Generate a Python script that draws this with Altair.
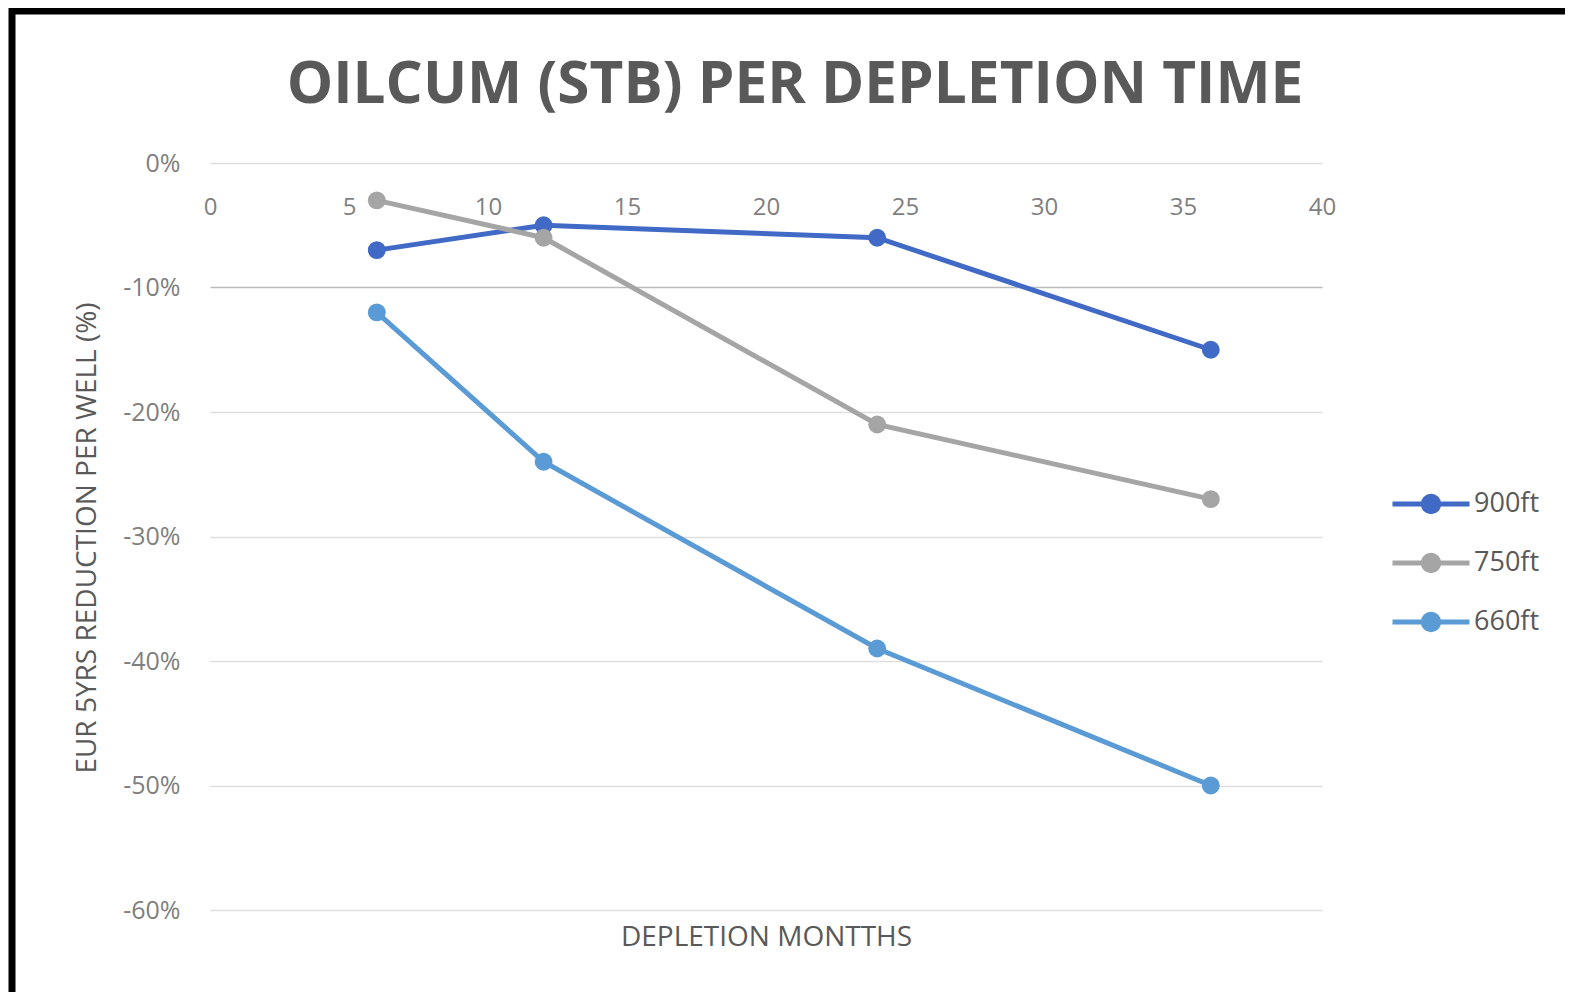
import altair as alt
import pandas as pd

months = [6, 12, 24, 36]
s900 = [-7, -5, -6, -15]
s750 = [-3, -6, -21, -27]
s660 = [-12, -24, -39, -50]
series_names = ["900ft", "750ft", "660ft"]
series_colors = ["#4169C6", "#A5A5A5", "#5B9BD5"]
x_ticks = [0, 5, 10, 15, 20, 25, 30, 35, 40]
y_ticks = [0, -10, -20, -30, -40, -50, -60]
title_text = "OILCUM (STB) PER DEPLETION TIME"

rows = []
for name, vals in zip(series_names, [s900, s750, s660]):
    for m, v in zip(months, vals):
        rows.append({"month": m, "value": v, "series": name})
df = pd.DataFrame(rows)

FONT = "Open Sans"
W, H = 1112, 747

legend_path = "M-1,0L1,0M0.2,0A0.2,0.2,0,1,1,-0.2,0A0.2,0.2,0,1,1,0.2,0Z"

lines = alt.Chart(df).mark_line(
    strokeWidth=5,
    point=alt.OverlayMarkDef(filled=True, size=320, opacity=1),
).encode(
    x=alt.X("month:Q",
            scale=alt.Scale(domain=[0, 40], nice=False),
            axis=alt.Axis(orient="top", values=x_ticks, offset=-56, domain=False,
                          ticks=False, tickSize=0, labelPadding=0, grid=False,
                          labelFlush=False, labelBound=False,
                          labelFont=FONT, labelFontSize=24, labelColor="#7f7f7f",
                          title="DEPLETION MONTTHS", titleFont=FONT, titleFontSize=28,
                          titleFontWeight="normal", titleColor="#595959",
                          titleX=W / 2, titleY=718, titleBaseline="middle",
                          titleAlign="center")),
    y=alt.Y("value:Q",
            scale=alt.Scale(domain=[-60, 0], nice=False),
            axis=alt.Axis(values=y_ticks, domain=False, ticks=False, tickSize=0,
                          labelPadding=30, labelExpr="datum.value + '%'",
                          labelFont=FONT, labelFontSize=25, labelColor="#7f7f7f",
                          gridColor={"condition": {"test": "datum.value == -10", "value": "#bcbcbc"},
                                     "value": "#dedede"},
                          gridWidth=1.6,
                          title="EUR 5YRS REDUCTION PER WELL (%)", titleFont=FONT,
                          titleFontSize=28, titleFontWeight="normal", titleColor="#595959",
                          titleX=-123, titleY=H / 2 + 1, titleAngle=-90,
                          titleBaseline="middle", titleAlign="center")),
    color=alt.Color("series:N",
                    scale=alt.Scale(domain=series_names, range=series_colors),
                    sort=series_names,
                    legend=alt.Legend(orient="none", legendX=1180, legendY=300, title=None,
                                      symbolType=legend_path, symbolSize=5929,
                                      symbolStrokeWidth=5, labelFont=FONT,
                                      labelFontSize=27, labelColor="#595959",
                                      labelOffset=2, rowPadding=0,
                                      symbolOpacity=1)),
    order=alt.Order("month:Q"),
)

frame_df = pd.DataFrame({"k": [0]})
top_rule = alt.Chart(frame_df).mark_rule(color="black", strokeWidth=7).encode(
    x=alt.value(-200), x2=alt.value(1360), y=alt.value(-152))
left_rule = alt.Chart(frame_df).mark_rule(color="black", strokeWidth=7).encode(
    x=alt.value(-198), y=alt.value(-155), y2=alt.value(835))
title_mark = alt.Chart(frame_df).mark_text(
    text=title_text, font=FONT, fontSize=58.5, fontWeight="bold", color="#595959",
    align="center", baseline="alphabetic").encode(
    x=alt.value(585), y=alt.value(-60))

chart = alt.layer(lines, top_rule, left_rule, title_mark).properties(
    width=W, height=H,
    autosize=alt.AutoSizeParams(type="none"),
    padding={"left": 202, "top": 155, "right": 243, "bottom": 82},
    background="white",
).configure_view(stroke=None, strokeWidth=0)

chart.save("out.html", embed_options={"renderer": "svg", "actions": False})
